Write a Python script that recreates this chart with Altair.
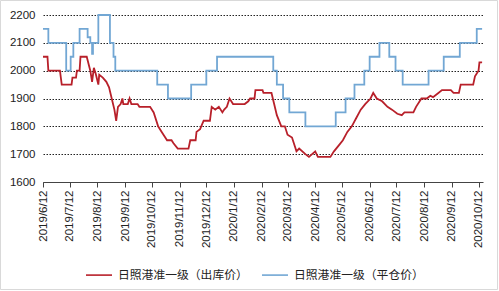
import altair as alt
import pandas as pd

RED_NAME = "日照港准一级（出库价）"
BLUE_NAME = "日照港准一级（平仓价）"

red_dates = [
    "2019-06-12", "2019-06-17", "2019-06-18", "2019-07-01", "2019-07-03", "2019-07-14",
    "2019-07-15", "2019-07-19", "2019-07-20", "2019-07-23", "2019-07-24", "2019-07-31",
    "2019-08-02", "2019-08-04", "2019-08-06", "2019-08-08", "2019-08-10", "2019-08-13",
    "2019-08-14", "2019-08-18", "2019-08-22", "2019-08-25", "2019-08-28", "2019-08-31",
    "2019-09-02", "2019-09-04", "2019-09-07", "2019-09-09", "2019-09-10", "2019-09-15",
    "2019-09-17", "2019-09-19", "2019-09-26", "2019-09-28", "2019-10-10", "2019-10-14",
    "2019-10-19", "2019-10-23", "2019-10-27", "2019-10-29", "2019-11-03", "2019-11-05",
    "2019-11-10", "2019-11-22", "2019-11-24", "2019-11-30", "2019-12-01", "2019-12-05",
    "2019-12-09", "2019-12-16", "2019-12-18", "2019-12-22", "2019-12-26", "2019-12-30",
    "2020-01-01", "2020-01-04", "2020-01-07", "2020-01-11", "2020-01-24", "2020-01-28",
    "2020-01-30", "2020-02-04", "2020-02-05", "2020-02-13", "2020-02-14", "2020-02-23",
    "2020-02-26", "2020-02-29", "2020-03-05", "2020-03-09", "2020-03-12", "2020-03-17",
    "2020-03-20", "2020-03-22", "2020-03-25", "2020-04-01", "2020-04-05", "2020-04-12",
    "2020-04-15", "2020-04-29", "2020-05-03", "2020-05-08", "2020-05-13", "2020-05-18",
    "2020-05-23", "2020-05-28", "2020-06-02", "2020-06-07", "2020-06-13", "2020-06-16",
    "2020-06-20", "2020-06-26", "2020-07-02", "2020-07-07", "2020-07-13", "2020-07-18",
    "2020-07-21", "2020-07-31", "2020-08-03", "2020-08-09", "2020-08-15", "2020-08-19",
    "2020-08-22", "2020-08-28", "2020-09-01", "2020-09-11", "2020-09-14", "2020-09-20",
    "2020-09-22", "2020-10-06", "2020-10-08", "2020-10-12", "2020-10-13", "2020-10-16",
]
red_values = [
    2050, 2050, 2000, 2000, 1950, 1950,
    1975, 1975, 2000, 2000, 2050, 2050,
    2025, 2000, 1960, 2010, 1990, 1950,
    1985, 1975, 1960, 1940, 1900, 1860,
    1820, 1870, 1880, 1900, 1880, 1880,
    1900, 1880, 1880, 1870, 1870, 1850,
    1800, 1780, 1760, 1750, 1750, 1740,
    1720, 1720, 1750, 1750, 1780, 1790,
    1820, 1820, 1870, 1860, 1870, 1850,
    1860, 1870, 1900, 1880, 1880, 1890,
    1900, 1900, 1930, 1930, 1920, 1920,
    1880, 1840, 1800, 1800, 1770, 1760,
    1730, 1710, 1720, 1700, 1690, 1710,
    1690, 1690, 1710, 1730, 1750, 1780,
    1800, 1830, 1860, 1880, 1900, 1920,
    1900, 1890, 1870, 1860, 1845, 1840,
    1850, 1850, 1870, 1900, 1900, 1910,
    1905, 1920, 1930, 1930, 1920, 1920,
    1950, 1950, 1980, 2000, 2030, 2030,
]

blue_dates = [
    "2019-06-12", "2019-06-18", "2019-07-08", "2019-07-13", "2019-07-16", "2019-07-23",
    "2019-08-01", "2019-08-04", "2019-08-06", "2019-08-07", "2019-08-13", "2019-08-26",
    "2019-08-30", "2019-09-01", "2019-10-18", "2019-10-30", "2019-11-25", "2019-12-12",
    "2019-12-24", "2020-02-25", "2020-02-29", "2020-03-07", "2020-03-14", "2020-04-01",
    "2020-05-05", "2020-05-16", "2020-05-26", "2020-06-06", "2020-06-12", "2020-06-23",
    "2020-07-04", "2020-07-11", "2020-07-19", "2020-08-17", "2020-09-03", "2020-09-21",
    "2020-10-10", "2020-10-16",
]
blue_values = [
    2150, 2100, 2000, 2050, 2100, 2150,
    2120, 2100, 2060, 2100, 2200, 2100,
    2050, 2000, 1950, 1900, 1950, 2000,
    2050, 2000, 1950, 1900, 1850, 1800,
    1850, 1900, 1950, 2000, 2050, 2100,
    2050, 2000, 1950, 2000, 2050, 2100,
    2150, 2150,
]

tick_dates = [
    (2019, 6), (2019, 7), (2019, 8), (2019, 9), (2019, 10), (2019, 11), (2019, 12),
    (2020, 1), (2020, 2), (2020, 3), (2020, 4), (2020, 5), (2020, 6), (2020, 7),
    (2020, 8), (2020, 9), (2020, 10),
]
y_ticks = [1600, 1700, 1800, 1900, 2000, 2100, 2200]

red_df = pd.DataFrame({"date": red_dates, "price": red_values, "series": RED_NAME})
blue_df = pd.DataFrame({"date": blue_dates, "price": blue_values, "series": BLUE_NAME})

x_enc = alt.X(
    "date:T",
    scale=alt.Scale(
        type="utc",
        domain=[
            alt.DateTime(year=2019, month=6, date=12, utc=True),
            alt.DateTime(year=2020, month=10, date=17, utc=True),
        ],
    ),
    axis=alt.Axis(
        title=None,
        values=[alt.DateTime(year=y, month=m, date=12, utc=True) for y, m in tick_dates],
        labelExpr="utcFormat(datum.value, '%Y/%-m/%-d')",
        labelAngle=270,
        labelFont="Liberation Sans",
        labelFontSize=11.5,
        labelColor="#222222",
        labelPadding=3,
        tickSize=5,
        tickColor="#444444",
        domainColor="#444444",
        grid=False,
        labelOverlap=False,
    ),
)
y_enc = alt.Y(
    "price:Q",
    scale=alt.Scale(domain=[1600, 2200], nice=False, zero=False),
    axis=alt.Axis(
        title=None,
        values=y_ticks,
        format="d",
        labelFont="Liberation Sans",
        labelFontSize=11.5,
        labelColor="#222222",
        labelPadding=8,
        ticks=False,
        domain=False,
        grid=True,
        gridDash=[1.5, 1.5],
        gridColor="#222222",
        gridWidth=1,
    ),
)
color_enc = alt.Color(
    "series:N",
    scale=alt.Scale(domain=[RED_NAME, BLUE_NAME], range=["#B8202A", "#72A7D4"]),
    legend=alt.Legend(
        title=None,
        orient="none",
        direction="horizontal",
        legendX=42,
        legendY=246,
        symbolType="stroke",
        symbolSize=676,
        symbolStrokeWidth=1.6,
        labelFont="Noto Sans CJK SC",
        labelFontSize=11.8,
        labelColor="#222222",
        labelOffset=5,
        columnPadding=10,
    ),
)

border = alt.Chart(alt.Data(values=[{"k": 1}])).mark_rect(
    fillOpacity=0, stroke="#D9D9D9", strokeWidth=1
).encode(
    x=alt.value(-42.5), x2=alt.value(454.5), y=alt.value(-14.5), y2=alt.value(274.5)
)

blue_line = alt.Chart(blue_df).mark_line(interpolate="step-after", strokeWidth=1.8).encode(
    x=x_enc, y=y_enc, color=color_enc
)
red_line = alt.Chart(red_df).mark_line(interpolate="linear", strokeWidth=1.8).encode(
    x=x_enc, y=y_enc, color=color_enc
)

chart = alt.layer(border, blue_line, red_line).properties(
    width=440,
    height=167,
    autosize=alt.AutoSizeParams(type="none"),
    padding={"left": 43, "top": 15, "right": 16, "bottom": 109},
    background="white",
).configure_view(stroke=None)

chart.save("out.html", embed_options={"renderer": "svg", "actions": False})
